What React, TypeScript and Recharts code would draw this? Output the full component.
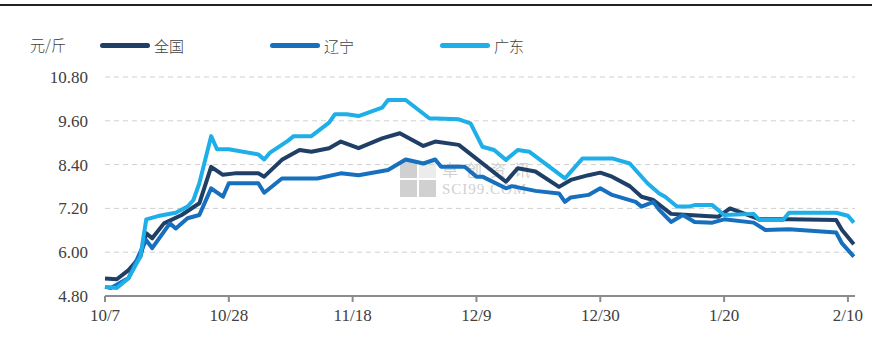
import { LineChart, Line, XAxis, YAxis, CartesianGrid } from 'recharts';

// day index counted from 10/7
const NATIONAL_DAY = [0, 2, 4, 6, 7, 8, 10, 13, 16, 18, 20, 22, 26, 27, 30, 33, 35, 38, 40, 43, 47, 50, 54, 56, 60, 68, 70, 73, 77, 79, 82, 84, 86, 89, 91, 93, 96, 99, 104, 106, 109, 111, 116, 124, 125, 127];
const NATIONAL = [5.28, 5.26, 5.51, 5.88, 6.52, 6.38, 6.79, 7.02, 7.34, 8.34, 8.12, 8.16, 8.16, 8.07, 8.53, 8.8, 8.75, 8.85, 9.03, 8.85, 9.12, 9.26, 8.91, 9.03, 8.94, 7.93, 8.3, 8.21, 7.79, 7.98, 8.11, 8.18, 8.07, 7.81, 7.52, 7.43, 7.05, 7.02, 6.97, 7.2, 7.02, 6.9, 6.9, 6.88, 6.61, 6.22];

const LIAONING_DAY = [0, 1, 4, 6, 7, 8, 11, 12, 14, 16, 18, 20, 21, 26, 27, 30, 36, 40, 43, 48, 51, 54, 56, 57, 61, 63, 64, 68, 69, 73, 77, 78, 79, 82, 84, 86, 90, 91, 93, 94, 96, 98, 100, 103, 105, 110, 112, 116, 124, 125, 127];
const LIAONING = [5.05, 5.02, 5.29, 6.01, 6.33, 6.11, 6.79, 6.65, 6.93, 7.02, 7.75, 7.52, 7.89, 7.89, 7.63, 8.02, 8.02, 8.16, 8.11, 8.25, 8.54, 8.43, 8.54, 8.34, 8.34, 8.07, 8.07, 7.75, 7.81, 7.68, 7.61, 7.38, 7.5, 7.57, 7.75, 7.57, 7.38, 7.25, 7.38, 7.16, 6.83, 7.02, 6.83, 6.81, 6.9, 6.81, 6.61, 6.63, 6.54, 6.24, 5.88];

const GUANGDONG_DAY = [0, 2, 4, 6, 7, 9, 12, 14, 15, 16, 18, 19, 21, 26, 27, 28, 31, 32, 35, 38, 39, 41, 43, 47, 48, 51, 55, 60, 62, 64, 66, 68, 70, 72, 78, 81, 86, 89, 92, 94, 95, 97, 99, 100, 103, 105, 110, 111, 115, 116, 124, 126, 127];
const GUANGDONG = [5.05, 5.02, 5.29, 5.88, 6.9, 6.99, 7.08, 7.25, 7.43, 7.89, 9.18, 8.82, 8.82, 8.68, 8.54, 8.73, 9.05, 9.18, 9.18, 9.55, 9.78, 9.78, 9.73, 9.96, 10.17, 10.17, 9.67, 9.64, 9.53, 8.89, 8.8, 8.53, 8.8, 8.75, 8.02, 8.57, 8.57, 8.43, 7.89, 7.61, 7.52, 7.25, 7.25, 7.29, 7.29, 7.02, 7.05, 6.88, 6.88, 7.08, 7.08, 7.0, 6.81];

const X_TICKS = [0, 21, 42, 63, 84, 105, 126];
const X_LABELS = ['10/7', '10/28', '11/18', '12/9', '12/30', '1/20', '2/10'];
const Y_TICKS = [4.8, 6.0, 7.2, 8.4, 9.6, 10.8];

const SERIES = [
  { name: '全国', days: NATIONAL_DAY, values: NATIONAL, color: '#1f3f66', legendX: 100 },
  { name: '辽宁', days: LIAONING_DAY, values: LIAONING, color: '#1670be', legendX: 270 },
  { name: '广东', days: GUANGDONG_DAY, values: GUANGDONG, color: '#1eaee8', legendX: 440 },
];

const SERIF = '"Liberation Serif", "DejaVu Serif", serif';
const CJK = '"Noto Sans CJK SC", serif';

function XTick({ x, y, payload }: any) {
  return (
    <text x={x} y={y + 14} textAnchor="middle" fontFamily={SERIF} fontSize={17} fill="#404040">
      {X_LABELS[X_TICKS.indexOf(payload.value)] ?? ''}
    </text>
  );
}

function YTick({ x, y, payload }: any) {
  return (
    <text x={x - 2} y={y + 6} textAnchor="end" fontFamily={SERIF} fontSize={17} fill="#404040">
      {Number(payload.value).toFixed(2)}
    </text>
  );
}

export default function App() {
  return (
    <div style={{ position: 'absolute', left: 0, top: 0, width: 872, height: 347, background: '#fff', overflow: 'hidden' }}>
      <div style={{ position: 'absolute', left: 0, top: 4, width: 872, height: 2, background: '#222' }} />

      {/* legend */}
      <span style={{ position: 'absolute', left: 30, top: 34, fontFamily: CJK, fontSize: 15, color: '#404040', fontWeight: 300 }}>元/斤</span>
      {SERIES.map(s => (
        <div key={s.name} style={{ position: 'absolute', left: s.legendX, top: 34, height: 22, display: 'flex', alignItems: 'center' }}>
          <div style={{ width: 50, height: 5, borderRadius: 3, background: s.color }} />
          <span style={{ marginLeft: 4, fontFamily: CJK, fontSize: 15, color: '#404040', fontWeight: 300 }}>{s.name}</span>
        </div>
      ))}

      {/* watermark */}
      <div style={{ position: 'absolute', left: 400, top: 160, display: 'flex', alignItems: 'center', opacity: 0.55 }}>
        <div style={{ width: 36, height: 36, display: 'grid', gridTemplateColumns: '1fr 1fr', gap: 2 }}>
          <div style={{ background: '#aaa' }} />
          <div style={{ background: '#ddd' }} />
          <div style={{ background: '#aaa' }} />
          <div style={{ background: '#aaa' }} />
        </div>
        <div style={{ marginLeft: 6, color: '#aaa' }}>
          <div style={{ fontSize: 16, lineHeight: '19px', fontFamily: CJK, letterSpacing: 8 }}>卓创资讯</div>
          <div style={{ fontSize: 15, lineHeight: '17px', marginTop: 2, fontFamily: SERIF, letterSpacing: 1 }}>SCI99.COM</div>
        </div>
      </div>

      <div style={{ position: 'absolute', left: 0, top: 0 }}>
        <LineChart width={872} height={347} margin={{ top: 77, right: 17, bottom: 21, left: 45 }}>
          <CartesianGrid vertical={false} stroke="#cfcfcf" strokeDasharray="5 4" />
          <XAxis
            dataKey="d"
            type="number"
            domain={[0, 127.2]}
            ticks={X_TICKS}
            allowDuplicatedCategory={false}
            axisLine={{ stroke: '#8c8c8c', strokeWidth: 2 }}
            tickLine={{ stroke: '#8c8c8c', strokeWidth: 2 }}
            tickSize={6}
            tickMargin={5}
            height={30}
            tick={<XTick />}
          />
          <YAxis
            type="number"
            domain={[4.8, 10.8]}
            ticks={Y_TICKS}
            axisLine={false}
            tickLine={false}
            tickMargin={9}
            width={60}
            tick={<YTick />}
          />
          {SERIES.map(s => (
            <Line
              key={s.name}
              name={s.name}
              data={s.days.map((d, i) => ({ d, v: s.values[i] }))}
              dataKey="v"
              stroke={s.color}
              strokeWidth={4}
              dot={false}
              activeDot={false}
              type="linear"
              strokeLinejoin="round"
              isAnimationActive={false}
            />
          ))}
        </LineChart>
      </div>
    </div>
  );
}
